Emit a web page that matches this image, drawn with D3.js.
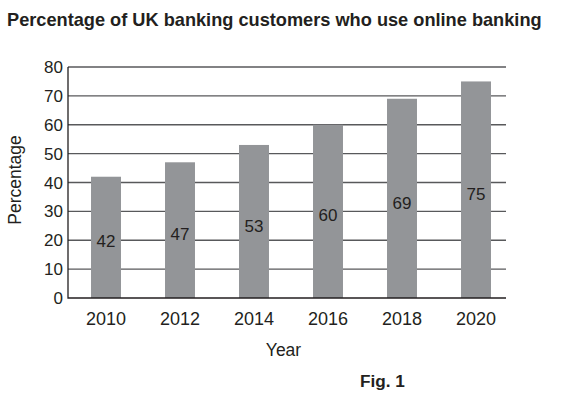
<!DOCTYPE html>
<meta charset="utf-8">
<style>
    body { margin: 0; background: #fff; }
    text { font-family: "Liberation Sans", Arial, sans-serif; fill: #231f20; }
    .grid line { stroke: #58595b; stroke-width: 1.3; }
    .title { font-size: 18.2px; font-weight: bold; }
</style>
<svg width="570" height="396"></svg>
<script src="https://d3js.org/d3.v7.min.js"></script>
<script>
    var years = ["2010", "2012", "2014", "2016", "2018", "2020"];
    var percentages = [42, 47, 53, 60, 69, 75];
    var yTicks = [0, 10, 20, 30, 40, 50, 60, 70, 80];

    var svg = d3.select("svg"),
        plotLeft = 68, plotRight = 506, plotTop = 67, plotBottom = 298;

    var x = d3.scaleBand()
        .domain(years)
        .range([69, 513])
        .paddingInner(0.595)
        .paddingOuter(0.2975);

    var y = d3.scaleLinear()
        .domain([0, 80])
        .range([plotBottom, plotTop]);

    svg.append("text")
        .attr("class", "title")
        .attr("x", 7)
        .attr("y", 26)
        .text("Percentage of UK banking customers who use online banking");

    // horizontal grid lines
    svg.append("g")
        .attr("class", "grid")
        .selectAll("line")
        .data(yTicks.slice(1))
        .enter().append("line")
        .attr("x1", plotLeft)
        .attr("x2", plotRight)
        .attr("y1", function (d) { return y(d); })
        .attr("y2", function (d) { return y(d); });

    svg.append("g")
        .selectAll("rect")
        .data(percentages)
        .enter().append("rect")
        .attr("x", function (d, i) { return x(years[i]); })
        .attr("width", x.bandwidth())
        .attr("y", function (d) { return y(d); })
        .attr("height", function (d) { return y(0) - y(d); })
        .style("fill", "#939598");

    // axes
    svg.append("path")
        .attr("d", "M" + plotLeft + "," + y(80) + "V" + y(0) + "H" + plotRight)
        .style("fill", "none")
        .style("stroke", "#231f20")
        .style("stroke-width", 1.3);

    svg.append("g")
        .selectAll("text")
        .data(yTicks)
        .enter().append("text")
        .attr("x", 63)
        .attr("y", function (d) { return y(d); })
        .attr("dy", "0.36em")
        .style("text-anchor", "end")
        .style("font-size", "17px")
        .text(function (d) { return d; });

    svg.append("g")
        .selectAll("text")
        .data(years)
        .enter().append("text")
        .attr("x", function (d) { return x(d) + x.bandwidth() / 2; })
        .attr("y", 325)
        .style("text-anchor", "middle")
        .style("font-size", "18px")
        .text(function (d) { return d; });

    // value labels inside bars
    svg.append("g")
        .selectAll("text")
        .data(percentages)
        .enter().append("text")
        .attr("x", function (d, i) { return x(years[i]) + x.bandwidth() / 2; })
        .attr("y", function (d) { return y(d / 2) + 4; })
        .attr("dy", "0.36em")
        .style("text-anchor", "middle")
        .style("font-size", "17px")
        .text(function (d) { return d; });

    svg.append("text")
        .attr("x", 283.5)
        .attr("y", 356)
        .style("text-anchor", "middle")
        .style("font-size", "17.5px")
        .text("Year");

    svg.append("text")
        .attr("transform", "translate(21,180) rotate(-90)")
        .style("text-anchor", "middle")
        .style("font-size", "17.5px")
        .text("Percentage");

    svg.append("text")
        .attr("x", 360)
        .attr("y", 387)
        .style("font-size", "17.2px")
        .style("font-weight", "bold")
        .text("Fig. 1");
</script>
